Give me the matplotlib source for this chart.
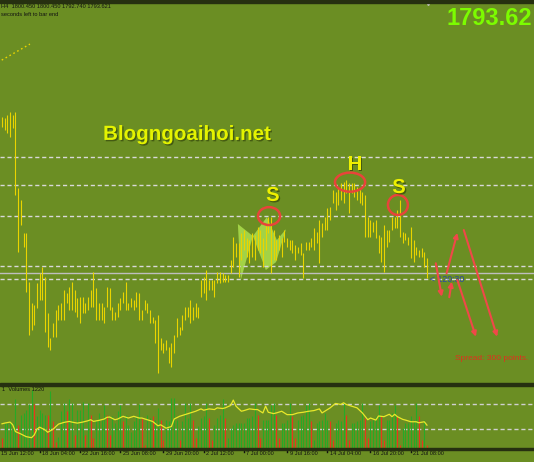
import matplotlib.pyplot as plt
import matplotlib.transforms as mtransforms
import matplotlib.patheffects as pe
from matplotlib import font_manager
from matplotlib.patches import Ellipse, Polygon, Rectangle


# Данные: бары H4 (максимум / минимум), объёмы, подписи времени
highs = [1860.7, 1860.3, 1861.6, 1862.9, 1861.6, 1862.9, 1830.2, 1825.0, 1810.8, 1810.8,
         1789.8, 1780.7, 1779.9, 1789.3, 1793.6, 1796.2, 1791.9, 1776.4, 1765.7, 1772.1,
         1777.7, 1779.9, 1780.7, 1786.3, 1785.0, 1787.6, 1789.8, 1786.3, 1782.9, 1783.3,
         1783.3, 1780.7, 1783.3, 1786.3, 1794.0, 1787.2, 1780.7, 1780.7, 1779.0, 1787.6,
         1787.2, 1779.0, 1776.8, 1780.7, 1782.9, 1785.4, 1789.8, 1780.7, 1782.9, 1782.0,
         1785.4, 1785.0, 1777.7, 1782.0, 1780.7, 1777.7, 1774.7, 1773.4, 1775.5, 1765.7,
         1763.5, 1764.8, 1761.8, 1763.5, 1766.9, 1774.3, 1770.4, 1775.5, 1779.0, 1779.0,
         1782.0, 1779.0, 1780.7, 1779.0, 1790.6, 1791.9, 1794.9, 1790.6, 1790.6, 1790.6,
         1794.0, 1794.0, 1793.6, 1792.8, 1792.8, 1799.2, 1809.1, 1806.5, 1806.5, 1810.8,
         1812.1, 1808.7, 1807.8, 1810.8, 1810.0, 1813.4, 1812.1, 1808.7, 1814.3, 1817.7,
         1817.7, 1812.1, 1807.8, 1810.0, 1808.7, 1812.1, 1808.7, 1807.8, 1807.8, 1805.7,
         1804.8, 1806.5, 1802.2, 1807.0, 1807.0, 1808.7, 1813.0, 1811.3, 1816.4, 1815.1,
         1817.7, 1821.6, 1822.0, 1829.3, 1828.4, 1830.6, 1832.3, 1832.7, 1833.6, 1832.3,
         1832.3, 1832.3, 1830.6, 1830.2, 1828.4, 1827.2, 1817.7, 1816.4, 1815.5, 1816.4,
         1810.0, 1809.1, 1814.3, 1812.1, 1812.1, 1817.7, 1817.7, 1820.7, 1825.0, 1811.3,
         1810.8, 1809.1, 1813.4, 1807.8, 1804.8, 1803.5, 1804.4, 1802.6, 1800.1]

lows = [1856.4, 1855.1, 1853.8, 1852.1, 1856.0, 1827.2, 1802.6, 1814.3, 1804.8, 1785.4,
        1766.9, 1769.1, 1771.3, 1778.6, 1782.0, 1782.0, 1768.2, 1761.8, 1760.5, 1766.1,
        1766.1, 1773.4, 1773.4, 1773.4, 1780.7, 1777.7, 1777.7, 1776.8, 1774.7, 1772.1,
        1776.4, 1776.4, 1777.7, 1779.0, 1779.0, 1773.4, 1773.4, 1773.4, 1772.1, 1779.0,
        1777.7, 1773.4, 1773.4, 1774.7, 1777.7, 1780.7, 1777.7, 1777.7, 1779.0, 1777.7,
        1779.0, 1773.4, 1773.4, 1777.7, 1776.4, 1772.1, 1772.1, 1763.5, 1750.6, 1760.5,
        1759.2, 1760.5, 1754.9, 1753.2, 1759.2, 1766.1, 1766.9, 1769.1, 1773.4, 1774.7,
        1772.1, 1773.4, 1774.7, 1774.3, 1783.3, 1785.0, 1782.0, 1786.3, 1786.3, 1783.3,
        1789.3, 1789.3, 1789.8, 1789.8, 1789.8, 1793.6, 1796.2, 1800.5, 1791.9, 1799.2,
        1803.5, 1800.5, 1797.9, 1800.5, 1799.2, 1803.5, 1802.2, 1796.2, 1803.5, 1810.8,
        1793.6, 1799.2, 1799.2, 1803.5, 1800.5, 1807.0, 1804.8, 1803.5, 1802.2, 1799.2,
        1802.2, 1801.4, 1791.5, 1803.5, 1803.5, 1804.8, 1803.5, 1806.5, 1797.9, 1809.1,
        1812.1, 1812.1, 1816.4, 1823.7, 1820.7, 1822.9, 1825.0, 1823.7, 1828.0, 1819.4,
        1828.0, 1826.3, 1825.0, 1823.7, 1822.9, 1809.1, 1809.1, 1809.1, 1811.3, 1808.7,
        1802.2, 1798.4, 1794.0, 1804.8, 1807.0, 1812.1, 1813.0, 1813.0, 1809.1, 1806.5,
        1807.8, 1805.7, 1800.1, 1798.4, 1801.4, 1800.5, 1800.5, 1796.2, 1791.5]

volumes = [4050, 10800, 10800, 11550, 10800, 21300, 10050, 14550, 15300, 16800,
           19050, 25500, 19050, 13800, 16800, 15300, 14550, 14550, 25050, 11550,
           2550, 4800, 16050, 19800, 16050, 21600, 19800, 5550, 16800, 16800,
           20100, 5550, 19800, 14550, 4050, 12300, 15300, 12300, 18600, 14550,
           5550, 13800, 10800, 16050, 18600, 11550, 14550, 10050, 7050, 11550,
           13800, 19050, 13050, 1050, 14550, 13050, 13800, 12300, 17550, 12300,
           3300, 12300, 11550, 22050, 22050, 12300, 3300, 11550, 19800, 13050,
           19800, 12300, 4050, 9300, 13050, 13800, 19800, 13050, 3300, 10050,
           13050, 14550, 21600, 13050, 4050, 8550, 10050, 10800, 10800, 10800,
           10800, 13050, 13050, 13800, 19800, 14550, 4050, 12300, 12300, 12300,
           18600, 19800, 14550, 4050, 10800, 10800, 12300, 19800, 13800, 4050,
           12300, 13800, 14550, 18600, 19800, 11550, 3300, 10800, 11550, 12300,
           15300, 12300, 11550, 3300, 10800, 12300, 11550, 19800, 14550, 3300,
           10800, 10800, 11550, 12300, 19800, 13050, 4050, 11550, 12300, 13800,
           18600, 13800, 3300, 12300, 12300, 15300, 18600, 13800, 1050, 8550,
           10800, 10800, 13800, 12300, 19800, 13800, 3300, 12300, 1220]

# бары объёма красного цвета (остальные зелёные)
volume_red = [0, 6, 12, 17, 19, 20, 24, 27, 31, 33, 34, 39, 40, 45, 52, 53, 56, 59, 60, 66,
              71, 72, 77, 78, 83, 95, 96, 102, 103, 108, 109, 115, 122, 123, 128, 129,
              135, 136, 141, 142, 147, 148, 155, 156, 158]

# жёлтая линия в окне объёмов
line_bar = [0, 1, 3, 4, 5, 7, 9, 11, 12, 13, 14, 16, 17, 19, 21, 23, 25, 26, 28, 30,
            32, 33, 34, 36, 38, 39, 40, 42, 43, 45, 47, 49, 51, 52, 54, 56, 58, 59, 61, 63,
            64, 66, 68, 70, 72, 74, 75, 77, 79, 80, 82, 83, 85, 86, 87, 89, 90, 92, 94, 95,
            97, 98, 99, 101, 102, 104, 106, 108, 110, 112, 114, 116, 118, 119, 120, 122, 124,
            126, 127, 128, 130, 132, 134, 136, 137, 139, 140, 142, 144, 145, 146, 147, 149,
            150, 152, 154, 155, 157, 158]
line_val = [10500, 10800, 11250, 10050, 7050, 6000, 4800, 4350, 5550, 8100,
            9000, 7800, 6750, 8100, 10350, 11100, 11550, 11250, 10800, 11250,
            11850, 12300, 11550, 12000, 12600, 13350, 13500, 12300, 12600, 13800,
            13050, 13800, 13050, 13050, 12300, 11550, 9600, 10050, 8550, 9300,
            12600, 13800, 14550, 15300, 16050, 17100, 16500, 17100, 16800, 17550,
            17250, 17550, 18600, 21000, 18300, 16050, 16350, 17100, 16800, 16800,
            15300, 18300, 15600, 15000, 15300, 16050, 14550, 14550, 15300, 15600,
            16050, 16350, 17100, 15300, 16050, 17550, 19500, 19050, 19800, 19050,
            18300, 17550, 15300, 12300, 13050, 12150, 13950, 13650, 14700, 13650,
            14700, 13650, 12450, 12150, 11400, 11400, 10950, 11400, 9900]

tick_bars = [-2, 14, 29, 44, 60, 75, 90, 106, 121, 137, 152]
tick_labels = ['15 Jun 12:00', '18 Jun 04:00', '22 Jun 16:00', '25 Jun 08:00',
               '29 Jun 20:00', '2 Jul 12:00', '7 Jul 00:00', '9 Jul 16:00',
               '14 Jul 04:00', '16 Jul 20:00', '21 Jul 08:00']

levels = [1843.5, 1831.5, 1818.1, 1796.6, 1791.0]
bid = 1793.62
volume_levels = [19350, 8100]

# разметка: паттерн, вершины S-H-S, стрелки прогноза
pattern_a = [(87.7, 1814.7), (88.8, 1790.6), (93.3, 1809.5)]
pattern_b = [(93.3, 1809.5), (98.5, 1817.7), (102.2, 1807.8), (105.6, 1812.5),
             (101.9, 1798.3), (98.1, 1794.9)]
shs_letters = [('S', 100.7, 1827.0), ('H', 131.2, 1840.3), ('S', 147.6, 1830.4)]
shs_rings = [(99.3, 1818.1, 8.2, 7.7), (129.4, 1832.7, 11.2, 8.2), (147.2, 1822.9, 7.4, 8.6)]
arrows = [(161.3, 1797.8, 163.5, 1783.4),
          (166.3, 1783.2, 167.2, 1789.9),
          (165.3, 1793.5, 169.3, 1810.9),
          (169.3, 1790.6, 176.2, 1766.2),
          (171.7, 1812.1, 184.1, 1766.2)]


def find_family(names):
    for name in names:
        try:
            font_manager.findfont(font_manager.FontProperties(family=name),
                                  fallback_to_default=False)
            return name
        except ValueError:
            continue
    return 'DejaVu Sans'


sans = find_family(['Liberation Sans', 'Arial'])
narrow = find_family(['Liberation Sans Narrow', sans])
small_size = 5.0 if narrow == 'Liberation Sans Narrow' else 4.1

bg = '#6B8E23'
dark = '#263010'
bar_col = '#EAD400'
text_col = '#111111'
H = 462.0

fig = plt.figure(figsize=(5.34, 4.62), dpi=100, facecolor=bg)
ax = fig.add_axes([0, 1 - 383 / H, 1, 381 / H])
axv = fig.add_axes([0, 1 - 447.5 / H, 1, 62 / H])
for a in (ax, axv):
    a.set_facecolor(bg)
    for s in a.spines.values():
        s.set_visible(False)
    a.set_xticks([])
    a.set_yticks([])
    a.set_xlim(-0.74, 197.8)
ax.set_ylim(1746.3, 1910.2)
axv.set_ylim(0, 27450)

# тёмные разделители окна
for top, h in [(0, 2.5), (383, 2.5), (447.5, 2)]:
    fig.add_artist(Rectangle((0, 1 - (top + h) / H), 1, h / H,
                             transform=fig.transFigure, color=dark, zorder=10))

idx = list(range(len(highs)))

# ценовое окно
for lv in levels:
    ax.axhline(lv, color='#D8D8D8', lw=1, dashes=(3, 2), zorder=2)
ax.axhline(bid, color='#BEBEBE', lw=1, zorder=2)

ax.add_patch(Polygon(pattern_a, closed=True, color='#A2D246', lw=0, zorder=1))
ax.add_patch(Polygon(pattern_b, closed=True, color='#A2D246', lw=0, zorder=1))

ax.vlines(idx, lows, highs, color=bar_col, lw=0.8, zorder=3)
ax.plot([-0.1, 10.4], [1885.2, 1892.1], color=bar_col, lw=1, ls=(0, (1.2, 2)))

shadow = [pe.withSimplePatchShadow(offset=(1, -1), shadow_rgbFace='#2a3a08', alpha=0.6)]
for letter, x, y in shs_letters:
    ax.text(x, y, letter, ha='center', va='center', fontsize=14.5, fontweight='bold',
            family=sans, color='#EEF000', zorder=6, path_effects=shadow)
for x, y, w, h in shs_rings:
    ax.add_patch(Ellipse((x, y), w, h, fill=False, ec='#E8443A', lw=1.8, zorder=5))

for x0, y0, x1, y1 in arrows:
    ax.annotate('', xy=(x1, y1), xytext=(x0, y0), annotation_clip=False,
                arrowprops=dict(arrowstyle='-|>', color='#F04848', lw=1.5,
                                mutation_scale=7, shrinkA=0, shrinkB=0), zorder=6)

ax.text(0.193, 0.638, 'Blogngoaihoi.net', transform=ax.transAxes, fontsize=14.8,
        fontweight='bold', family=sans, color='#E4F300', va='baseline', path_effects=shadow)
ax.text(0.996, 0.940, '1793.62', transform=ax.transAxes, fontsize=17, fontweight='bold',
        family=sans, color='#7CFC00', ha='right', va='baseline')
ax.text(0.002, 0.995, 'H4  1800.450 1800.450 1792.740 1793.621', transform=ax.transAxes,
        fontsize=small_size, family=narrow, color=text_col, va='top')
ax.text(0.002, 0.973, 'seconds left to bar end', transform=ax.transAxes,
        fontsize=small_size, family=narrow, color=text_col, va='top')
ax.text(0.852, 0.060, 'Spread: 300 points.', transform=ax.transAxes, fontsize=6,
        family=sans, color='#E0301E', va='baseline')
ax.text(159.1, 1791.0, '< 120:30', fontsize=6.3, family=sans, color='#2B45A8',
        va='center', zorder=4)
ax.plot([158.4], [1], marker='v', ms=4, color='#C8C8C8',
        transform=mtransforms.blended_transform_factory(ax.transData, ax.transAxes),
        clip_on=False)

# окно объёмов
vcolors = ['#E8361C' if i in volume_red else '#26AA26' for i in idx]
for lv in volume_levels:
    axv.axhline(lv, color='#D0D0D0', lw=1, dashes=(3, 2), zorder=1)
axv.vlines(idx, 0, volumes, colors=vcolors, lw=0.8, zorder=2)
axv.plot(line_bar, line_val, color='#E8E82A', lw=0.9, zorder=3)
axv.text(0.004, 0.975, '1  Volumes 1220', transform=axv.transAxes, fontsize=small_size,
         family=narrow, color=text_col, va='top')

# шкала времени
trans = mtransforms.blended_transform_factory(axv.transData, axv.transAxes)
for b, lab in zip(tick_bars, tick_labels):
    axv.plot([b, b], [-0.035, -0.075], transform=trans, color=text_col, lw=1, clip_on=False)
    axv.text(max(b + 0.9, -0.55), -0.06, lab, transform=trans, ha='left', va='top',
             fontsize=small_size, family=narrow, color=text_col, clip_on=False)

fig.savefig('out.png', dpi=100, facecolor=bg)
